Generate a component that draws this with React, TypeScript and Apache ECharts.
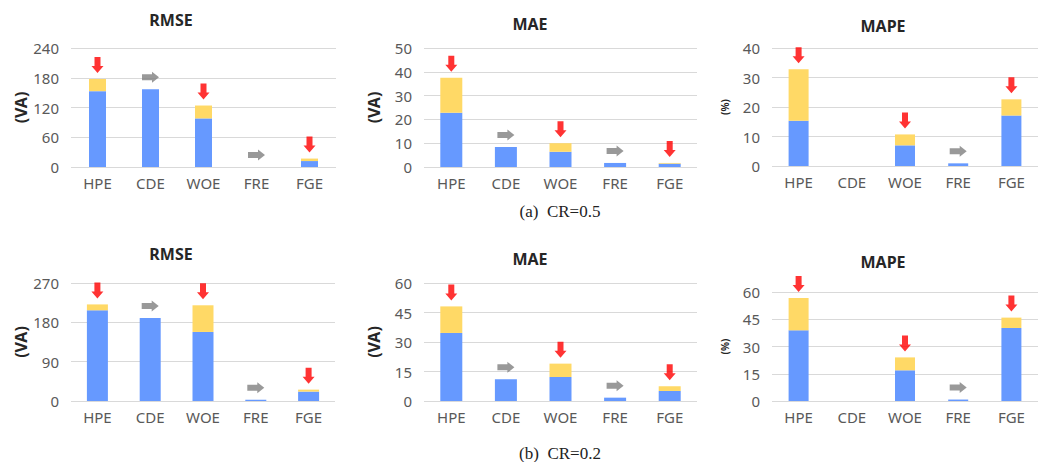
import React, { useEffect, useRef } from "react";
import * as echarts from "echarts";

const categories = ["HPE", "CDE", "WOE", "FRE", "FGE"];

// CR = 0.5 (top row)
const rmseA_base = [153, 157, 98, 0, 12];
const rmseA_extra = [24.5, 0, 26, 0, 5];
const maeA_base = [22.8, 8.4, 6.4, 1.7, 1.4];
const maeA_extra = [14.7, 0, 3.6, 0, 0.3];
const mapeA_base = [15.3, null, 7.0, 0.9, 17.1];
const mapeA_extra = [17.5, null, 3.7, 0, 5.5];

// CR = 0.2 (bottom row)
const rmseB_base = [207.5, 190, 158, 3, 21.5];
const rmseB_extra = [13.5, 0, 61, 0, 4.5];
const maeB_base = [34.6, 11.0, 12.2, 1.7, 5.1];
const maeB_extra = [13.5, 0, 6.8, 0, 2.4];
const mapeB_base = [38.9, null, 16.9, 0.8, 40.2];
const mapeB_extra = [17.8, null, 7.1, 0, 5.7];

// trend markers: "down" = red arrow, "flat" = grey arrow, null = none
const trendVA = ["down", "flat", "down", "flat", "down"];
const trendPct = ["down", null, "down", "flat", "down"];

const yMaxA = [240, 50, 40];
const yIntA = [60, 10, 10];
const yMaxB = [270, 60, 60];
const yIntB = [90, 15, 15];

const titles = ["RMSE", "MAE", "MAPE"];
const units = ["(VA)", "(VA)", "(%)"];
const captions = ["(a)  CR=0.5", "(b)  CR=0.2"];

const BLUE = "#6699FF";
const YELLOW = "#FFD966";
const RED = "#FF0000";
const GREY = "#7F7F7F";
const FONT = '"Noto Sans", sans-serif';

const DOWN_PATH = "path://M3,0 L9,0 L9,9 L12,9 L6,16 L0,9 L3,9 Z";
const RIGHT_PATH = "path://M0,2.5 L10,2.5 L10,0 L17,5.5 L10,11 L10,8.5 L0,8.5 Z";

export default function App() {
  const ref = useRef<HTMLDivElement>(null);

  useEffect(() => {
    if (!ref.current) return;
    const chart = echarts.init(ref.current, undefined, { renderer: "svg" });

    const grids = [
      { left: 71, top: 48, width: 265, height: 119 },
      { left: 424, top: 48, width: 273, height: 119 },
      { left: 772, top: 48, width: 272, height: 118 },
      { left: 71, top: 283, width: 264, height: 118 },
      { left: 424, top: 283, width: 273, height: 118 },
      { left: 772, top: 292, width: 272, height: 109 },
    ];
    const barWidths = [17, 22, 20, 21, 22, 20];

    const panels = [
      { base: rmseA_base, extra: rmseA_extra, max: yMaxA[0], int: yIntA[0], trend: trendVA, k: 0 },
      { base: maeA_base, extra: maeA_extra, max: yMaxA[1], int: yIntA[1], trend: trendVA, k: 1 },
      { base: mapeA_base, extra: mapeA_extra, max: yMaxA[2], int: yIntA[2], trend: trendPct, k: 2 },
      { base: rmseB_base, extra: rmseB_extra, max: yMaxB[0], int: yIntB[0], trend: trendVA, k: 0 },
      { base: maeB_base, extra: maeB_extra, max: yMaxB[1], int: yIntB[1], trend: trendVA, k: 1 },
      { base: mapeB_base, extra: mapeB_extra, max: yMaxB[2], int: yIntB[2], trend: trendPct, k: 2 },
    ];

    const xAxis: any[] = [];
    const yAxis: any[] = [];
    const series: any[] = [];

    panels.forEach((p, i) => {
      xAxis.push({
        type: "category",
        gridIndex: i,
        data: categories,
        axisLine: { show: false },
        axisTick: { show: false },
        axisLabel: { color: "#595959", fontSize: 15, fontFamily: FONT, margin: 8 },
      });
      yAxis.push({
        type: "value",
        gridIndex: i,
        min: 0,
        max: p.max,
        interval: p.int,
        name: units[p.k],
        nameLocation: "middle",
        nameRotate: 90,
        nameGap: 42,
        nameTextStyle: {
          fontWeight: "bold",
          fontSize: p.k === 2 ? 10 : 16,
          color: "#262626",
          fontFamily: FONT,
        },
        axisLine: { show: false },
        axisTick: { show: false },
        axisLabel: { color: "#595959", fontSize: 15, fontFamily: FONT, margin: 12 },
        splitLine: { lineStyle: { color: "#D9D9D9", width: 1 } },
      });
      series.push({
        type: "bar",
        xAxisIndex: i,
        yAxisIndex: i,
        stack: "s" + i,
        barWidth: barWidths[i],
        itemStyle: { color: BLUE },
        data: p.base,
      });
      series.push({
        type: "bar",
        xAxisIndex: i,
        yAxisIndex: i,
        stack: "s" + i,
        barWidth: barWidths[i],
        itemStyle: { color: YELLOW },
        data: p.extra,
      });
      const arrows = p.base.map((b, j) => {
        const t = p.trend[j];
        if (!t) return { value: "-", symbolSize: 0 };
        const total = (b ?? 0) + (p.extra[j] ?? 0);
        const down = t === "down";
        return {
          value: total,
          symbol: down ? DOWN_PATH : RIGHT_PATH,
          symbolSize: down ? [12, 16] : [17, 11],
          symbolOffset: [0, down ? -14 : -12],
          itemStyle: { color: down ? RED : GREY },
        };
      });
      series.push({
        type: "scatter",
        xAxisIndex: i,
        yAxisIndex: i,
        z: 5,
        data: arrows,
      });
    });

    const titlePos = [
      [171, 20], [530, 24], [883, 25.5],
      [171, 253.5], [530, 258.5], [883, 261.5],
    ];
    const graphic: any[] = titlePos.map((pos, i) => ({
      type: "text",
      x: pos[0],
      y: pos[1],
      style: {
        text: titles[i % 3],
        font: 'bold 16px "Noto Sans", sans-serif',
        fill: "#262626",
        align: "center",
        verticalAlign: "middle",
        textAlign: "center",
        textVerticalAlign: "middle",
      },
    }));
    [[560, 211.5], [560, 453]].forEach((pos, i) => {
      graphic.push({
        type: "text",
        x: pos[0],
        y: pos[1],
        style: {
          text: captions[i],
          font: '17px "Liberation Serif", serif',
          fill: "#222222",
          align: "center",
          verticalAlign: "middle",
          textAlign: "center",
          textVerticalAlign: "middle",
        },
      });
    });

    chart.setOption({
      animation: false,
      backgroundColor: "#ffffff",
      grid: grids,
      xAxis,
      yAxis,
      series,
      graphic,
    });

    return () => chart.dispose();
  }, []);

  return (
    <div
      ref={ref}
      style={{ position: "fixed", left: 0, top: 0, width: 1038, height: 462 }}
    />
  );
}
